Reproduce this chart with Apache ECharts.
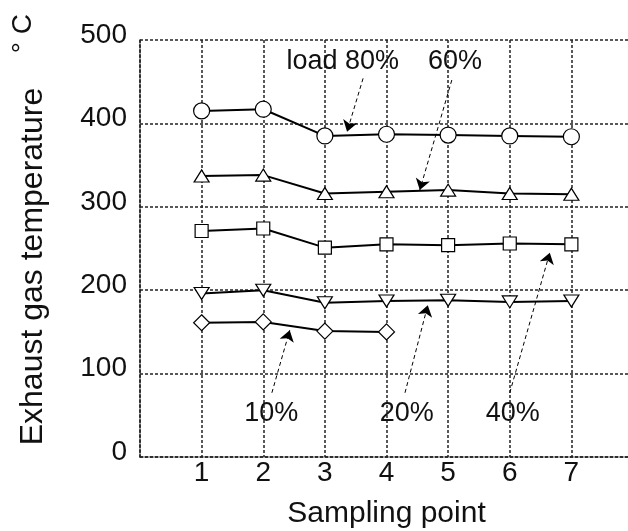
<!DOCTYPE html>
<html>
<head>
<meta charset="utf-8">
<script src="https://cdn.jsdelivr.net/npm/echarts@6/dist/echarts.min.js"></script>
<style>html,body{margin:0;padding:0;background:#fff;}#c{width:628px;height:531px;}</style>
</head>
<body>
<div id="c"></div>
<script>
var samplingPoints = [1, 2, 3, 4, 5, 6, 7];
var load80 = [415, 417, 385, 387, 386, 385, 384];
var load60 = [337, 338, 316, 318, 320, 316, 315];
var load40 = [271, 274, 251, 255, 254, 256, 255];
var load20 = [196, 200, 185, 187, 188, 186, 187];
var load10 = [161, 162, 151, 150];
var yTicks = [0, 100, 200, 300, 400, 500];
var annotationTexts = ['load 80%', '60%', '10%', '20%', '40%'];
var annotationAt = [[3.29, 474], [5.11, 474], [2.13, 52], [4.33, 52], [6.05, 52]];
var arrowFrom = [[3.62, 454], [5.06, 452], [2.14, 77], [4.30, 77], [6.0, 77]];
var arrowTo = [[3.36, 390], [4.54, 320], [2.43, 152], [4.67, 182], [6.65, 245]];

var FONT = 'Liberation Sans, Arial, sans-serif';
function pairs(vals) { return vals.map(function (v, i) { return [samplingPoints[i], v]; }); }

var lineStyle = { color: '#000', width: 2 };
var itemStyle = { color: '#fff', borderColor: '#000', borderWidth: 1.2 };

function mkSeries(name, vals, symbol, size, rotate) {
  return {
    name: name, type: 'line', data: pairs(vals), symbol: symbol, symbolSize: size,
    symbolRotate: rotate || 0, showAllSymbol: true, lineStyle: lineStyle, itemStyle: itemStyle,
    z: 3, animation: false
  };
}

var series = [
  mkSeries('80%', load80, 'circle', 16),
  mkSeries('60%', load60, 'triangle', [15, 12]),
  mkSeries('40%', load40, 'rect', 13),
  mkSeries('20%', load20, 'triangle', [15, 12], 180),
  mkSeries('10%', load10, 'diamond', [16, 16])
];

series.push({
  type: 'line', data: [], silent: true, animation: false,
  markLine: {
    silent: true, animation: false,
    symbol: ['none', 'arrow'], symbolSize: 11,
    lineStyle: { color: '#000', width: 1, type: [4, 3] },
    itemStyle: { color: '#000' },
    label: { show: false },
    data: arrowFrom.map(function (f, i) { return [{ coord: f }, { coord: arrowTo[i] }]; })
  },
  markPoint: {
    silent: true, animation: false, symbol: 'circle', symbolSize: 0,
    label: { show: true, position: 'inside', color: '#111', fontSize: 27, fontFamily: FONT,
      formatter: function (p) { return p.name; } },
    data: annotationAt.map(function (a, i) { return { name: annotationTexts[i], coord: a }; })
  }
});

var chart = echarts.init(document.getElementById('c'), null, { renderer: 'canvas' });
chart.setOption({
  backgroundColor: '#fff',
  animation: false,
  grid: { left: 140, width: 493, top: 40, bottom: 74, containLabel: false, outerBoundsMode: 'none' },
  xAxis: {
    type: 'value', min: 0, max: 8, interval: 1,
    name: 'Sampling point', nameLocation: 'middle', nameGap: 42,
    nameTextStyle: { fontSize: 30, color: '#111', fontFamily: FONT },
    axisLine: { show: true, lineStyle: { color: '#222', width: 1.5, type: [3, 2] } },
    axisTick: { show: false },
    axisLabel: { fontSize: 28, color: '#111', fontFamily: FONT, margin: 2, showMinLabel: false, showMaxLabel: false,
      formatter: function (v) { return samplingPoints.indexOf(v) >= 0 ? String(v) : ''; } },
    splitLine: { show: true, lineStyle: { color: '#222', width: 1.5, type: [3, 2] } }
  },
  yAxis: {
    type: 'value', min: yTicks[0], max: yTicks[yTicks.length - 1], interval: 100,
    name: 'Exhaust gas temperature', nameLocation: 'middle', nameGap: 91, nameRotate: 90,
    nameTextStyle: { fontSize: 32, color: '#111', fontFamily: FONT, padding: [0, 36, 0, 0] },
    axisLine: { show: true, lineStyle: { color: '#222', width: 1.5, type: [3, 2] } },
    axisTick: { show: false },
    axisLabel: { fontSize: 28, color: '#111', fontFamily: FONT, margin: 13, verticalAlign: 'bottom', lineHeight: 10 },
    splitLine: { show: true, lineStyle: { color: '#222', width: 1.5, type: [3, 2] } }
  },
  graphic: [{
    type: 'text', left: 9, top: 14, rotation: Math.PI / 2,
    style: { text: '° C', fontSize: 28, fill: '#111', font: '28px ' + FONT }
  }],
  series: series
});
</script>
</body>
</html>
